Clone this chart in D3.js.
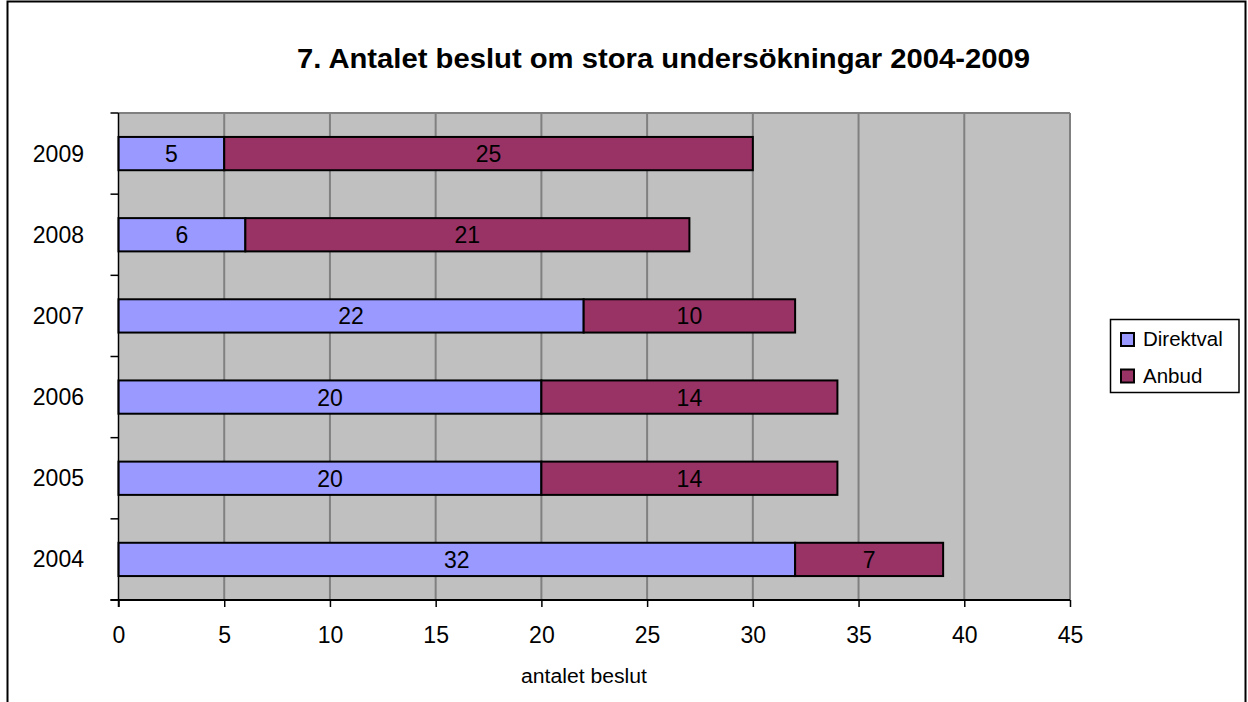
<!DOCTYPE html>
<html><head><meta charset="utf-8">
<script src="https://cdn.jsdelivr.net/npm/d3@7"></script>
<style>body{margin:0;background:#fff}svg{display:block}text{font-family:"Liberation Sans",Arial,sans-serif}</style>
</head><body><svg id="c" width="1248" height="702"></svg>
<script>
const years = ["2009","2008","2007","2006","2005","2004"];
const direktval = [5,6,22,20,20,32];
const anbud = [25,21,10,14,14,7];
const seriesNames = ["Direktval","Anbud"];
const xTicks = [0,5,10,15,20,25,30,35,40,45];
const colors = ["#9999FF","#993366"];

const svg = d3.select("#c");
svg.append("rect").attr("x",7.5).attr("y",1.5).attr("width",1238).attr("height",720)
  .attr("fill","none").attr("stroke","#000").attr("stroke-width",2);

const L=118.5, R=1070, T=113, B=600;
const x = d3.scaleLinear().domain([0,45]).range([L,R]);
const y = d3.scaleBand().domain(years).range([T,B]).paddingInner(0.59).paddingOuter(0.295);
const yb = d3.scaleBand().domain(years).range([T,B]);

svg.append("rect").attr("x",L).attr("y",T).attr("width",R-L).attr("height",B-T)
  .attr("fill","#C0C0C0");
svg.append("g").selectAll("line").data(xTicks.slice(1)).join("line")
  .attr("x1",d=>x(d)).attr("x2",d=>x(d)).attr("y1",T).attr("y2",B)
  .attr("stroke","#808080").attr("stroke-width",2);
svg.append("line").attr("x1",L).attr("x2",R).attr("y1",T).attr("y2",T).attr("stroke","#808080").attr("stroke-width",2);

const stack = years.map((yr,i)=>[{s:0,v:direktval[i],x0:0},{s:1,v:anbud[i],x0:direktval[i]}].map(o=>({...o,yr})));
const g = svg.append("g");
stack.forEach(row=>{
  row.forEach(o=>{
    g.append("rect").attr("x",x(o.x0)).attr("y",y(o.yr)).attr("width",x(o.x0+o.v)-x(o.x0))
      .attr("height",y.bandwidth()).attr("fill",colors[o.s]).attr("stroke","#000").attr("stroke-width",2);
    g.append("text").attr("x",(x(o.x0)+x(o.x0+o.v))/2).attr("y",y(o.yr)+y.bandwidth()/2+8.5)
      .attr("text-anchor","middle").attr("font-size",23).text(o.v);
  });
});

// x axis
const xa = svg.append("g").attr("transform",`translate(0,${B})`)
  .call(d3.axisBottom(x).tickValues(xTicks).tickSize(7).tickPadding(0));
xa.select(".domain").remove();
xa.selectAll(".tick line").attr("stroke","#000").attr("stroke-width",1.5);
xa.selectAll(".tick text").attr("font-size",23).attr("fill","#000").attr("dy",null).attr("y",43)
  .style("font-family",'"Liberation Sans",Arial,sans-serif');
svg.append("line").attr("x1",L-8).attr("x2",R).attr("y1",B).attr("y2",B).attr("stroke","#000").attr("stroke-width",2);

// y axis
svg.append("line").attr("x1",L).attr("x2",L).attr("y1",T).attr("y2",B+7).attr("stroke","#000").attr("stroke-width",1.5);
const yTickPos = [T].concat(years.map(d=>yb(d)+yb.bandwidth()));
svg.append("g").selectAll("line").data(yTickPos).join("line")
  .attr("x1",L-8).attr("x2",L).attr("y1",d=>d).attr("y2",d=>d).attr("stroke","#000").attr("stroke-width",1.5);
svg.append("g").selectAll("text").data(years).join("text")
  .attr("x",84).attr("y",d=>yb(d)+yb.bandwidth()/2+8).attr("text-anchor","end")
  .attr("font-size",23).text(d=>d);

// title
svg.append("text").attr("x",663.5).attr("y",68).attr("text-anchor","middle")
  .attr("font-size",28).attr("font-weight","bold")
  .attr("textLength",733).attr("lengthAdjust","spacingAndGlyphs")
  .text("7. Antalet beslut om stora undersökningar 2004-2009");
// axis title
svg.append("text").attr("x",584).attr("y",683).attr("text-anchor","middle")
  .attr("font-size",20).attr("textLength",126).attr("lengthAdjust","spacingAndGlyphs").text("antalet beslut");

// legend
const lg = svg.append("g");
lg.append("rect").attr("x",1110.5).attr("y",319.5).attr("width",128.5).attr("height",73)
  .attr("fill","#fff").attr("stroke","#000").attr("stroke-width",1.5);
seriesNames.forEach((n,i)=>{
  const cy = 339 + i*36.5;
  lg.append("rect").attr("x",1121).attr("y",cy-6).attr("width",13).attr("height",13)
    .attr("fill",colors[i]).attr("stroke","#000").attr("stroke-width",2);
  lg.append("text").attr("x",1143).attr("y",cy+7).attr("font-size",20.5).text(n);
});
</script></body></html>
